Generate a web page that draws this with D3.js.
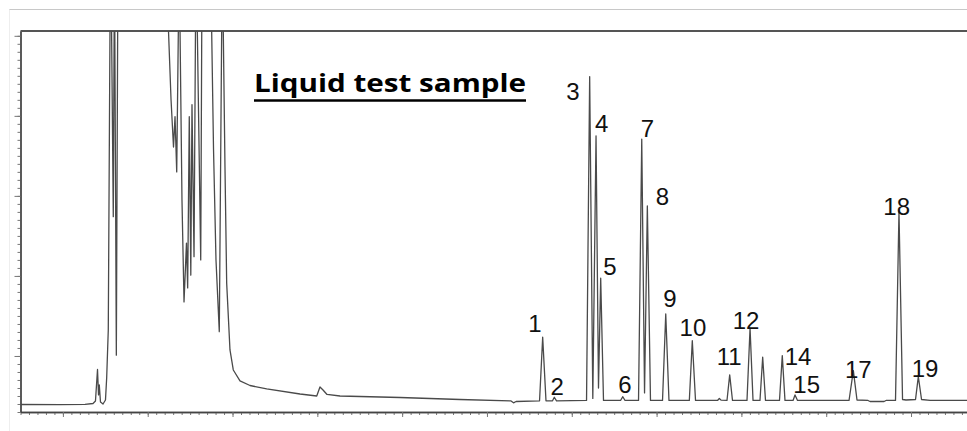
<!DOCTYPE html>
<html>
<head>
<meta charset="utf-8">
<script src="https://cdn.jsdelivr.net/npm/d3@7"></script>
<style>
  body { margin: 0; background: #fff; }
  .peakLabel { font-family: "Liberation Sans", Arial, sans-serif; font-size: 24px; fill: #111; }
  .chartTitle { font-family: "Open Sans", "Noto Sans", sans-serif; font-weight: bold; font-size: 25px; fill: #000; }
</style>
</head>
<body>
<div id="chart"></div>
<script>
// trace: retention time (min) and signal (mV)
// (solvent peaks run off the top, their apexes are guessed above the frame)
var traceTime = [
  0.500, 0.966, 1.261, 1.355, 1.384, 1.408, 1.420, 1.429, 1.443, 1.473,
  1.502, 1.516, 1.535, 1.555, 1.564, 1.574, 1.594, 1.608, 1.630, 1.650,
  1.909, 2.204, 2.245, 2.275, 2.304, 2.322, 2.342, 2.361, 2.369, 2.381,
  2.404, 2.428, 2.457, 2.471, 2.490, 2.508, 2.522, 2.546, 2.563, 2.572,
  2.585, 2.625, 2.637, 2.646, 2.699, 2.746, 2.754, 2.776, 2.805, 2.844,
  2.872, 2.879, 2.891, 2.911, 2.931, 2.970, 3.009, 3.088, 3.206, 3.403,
  3.796, 3.993, 4.031, 4.067, 4.114, 4.267, 4.975, 5.682, 6.284, 6.313,
  6.343, 6.620, 6.657, 6.696, 6.773, 6.794, 6.820, 7.174, 7.211, 7.248,
  7.286, 7.315, 7.341, 7.374, 7.575, 7.602, 7.628, 7.787, 7.825, 7.858,
  7.891, 7.928, 8.070, 8.108, 8.146, 8.386, 8.421, 8.459, 8.718, 8.740,
  8.760, 8.830, 8.862, 8.895, 9.066, 9.102, 9.137, 9.219, 9.251, 9.284,
  9.449, 9.482, 9.514, 9.609, 9.632, 9.662, 10.269, 10.320, 10.363, 10.493,
  10.517, 10.682, 10.705, 10.817, 10.858, 10.900, 10.941, 11.053, 11.086, 11.124,
  11.224, 11.660
];
var traceSignal = [
  3.94, 3.91, 3.96, 4.06, 4.38, 8.31, 5.13, 6.38, 4.25, 4.00,
  4.50, 7.25, 13.25, 50.6, 62.0, 50.6, 27.4, 59.5, 10.1, 62.0,
  64.5, 62.0, 50.6, 42.0, 36.1, 39.9, 33.0, 50.6, 59.5, 50.6,
  29.5, 16.75, 24.1, 18.5, 39.9, 20.1, 41.4, 22.4, 50.6, 59.5,
  50.6, 22.0, 50.6, 62.0, 64.5, 59.5, 50.6, 35.75, 22.0, 13.04,
  50.6, 59.5, 50.6, 33.6, 19.1, 10.75, 8.25, 6.88, 6.31, 5.88,
  5.25, 5.00, 6.13, 5.75, 5.19, 5.00, 4.81, 4.56, 4.38, 4.15,
  4.31, 4.40, 12.34, 4.40, 4.40, 4.84, 4.40, 4.44, 44.91, 4.69,
  37.5, 6.00, 19.71, 4.44, 4.44, 4.91, 4.44, 4.44, 37.09, 5.38,
  28.75, 4.44, 4.44, 15.25, 4.44, 4.44, 11.91, 4.44, 4.44, 4.69,
  4.48, 4.44, 7.63, 4.44, 4.44, 13.46, 4.44, 4.44, 9.84, 4.44,
  4.44, 10.04, 4.44, 4.44, 5.13, 4.44, 4.44, 8.16, 4.50, 4.44,
  4.31, 4.31, 4.44, 4.44, 28.04, 4.56, 4.50, 4.56, 7.41, 4.56,
  4.44, 4.44
];

// peak numbers and where each number is written (min, mV)
var peakNames = ["1", "2", "3", "4", "5", "6", "7", "8", "9", "10",
  "11", "12", "14", "15", "17", "18", "19"];
var labelTime = [6.567, 6.829, 7.015, 7.353, 7.451, 7.628, 7.891, 8.068, 8.158, 8.429,
  8.857, 9.054, 9.668, 9.770, 10.379, 10.831, 11.165];
var labelSignal = [13.04, 5.13, 42.0, 38.04, 20.13, 5.34, 37.41, 28.9, 16.16, 12.5,
  8.88, 13.38, 8.9, 5.35, 7.25, 27.63, 7.38];

var titleText = "Liquid test sample";

// axis ticks (no tick labels on this plot)
var xMajorTicks = [1, 2, 3, 4, 5, 6, 7, 8, 9, 10, 11];
var yMajorTicks = [10, 20, 30, 40, 50];

var svgWidth = 967;
var svgHeight = 431;

var plot = { left: 20.5, top: 31, right: 967, bottom: 412 };

var svg = d3.select("#chart").append("svg")
  .attr("width", svgWidth)
  .attr("height", svgHeight);

var xScale = d3.scaleLinear()
  .domain([0.5, 11.66])
  .range([plot.left, plot.right]);

var yScale = d3.scaleLinear()
  .domain([3, 50.6])
  .range([plot.bottom, plot.top]);

// faint page edges from the screenshot
svg.append("line")
  .attr("x1", 9).attr("x2", svgWidth)
  .attr("y1", 9.5).attr("y2", 9.5)
  .attr("stroke", "#c8c8c8");
svg.append("line")
  .attr("x1", 9.5).attr("x2", 9.5)
  .attr("y1", 9.5).attr("y2", svgHeight)
  .attr("stroke", "#eeeeee");

// minor ticks
var xMinor = d3.range(5, 117).map(d => d / 10);
var yMinor = d3.range(3, 51);

var xAxisMinor = d3.axisBottom(xScale).tickValues(xMinor).tickSize(3).tickSizeOuter(0).tickFormat("");
var xAxisMajor = d3.axisBottom(xScale).tickValues(xMajorTicks).tickSize(5).tickSizeOuter(0).tickFormat("");
var yAxisMinor = d3.axisLeft(yScale).tickValues(yMinor).tickSize(3).tickSizeOuter(0).tickFormat("");
var yAxisMajor = d3.axisLeft(yScale).tickValues(yMajorTicks).tickSize(6).tickSizeOuter(0).tickFormat("");

[xAxisMinor, xAxisMajor].forEach(function(ax) {
  svg.append("g")
    .attr("class", "axis")
    .attr("transform", `translate(0, ${plot.bottom})`)
    .call(ax);
});
[yAxisMinor, yAxisMajor].forEach(function(ax) {
  svg.append("g")
    .attr("class", "axis")
    .attr("transform", `translate(${plot.left}, 0)`)
    .call(ax);
});
svg.selectAll(".axis path").attr("stroke", "#444").attr("stroke-width", 1.3);
svg.selectAll(".axis line").attr("stroke", "#777");

// top frame line
svg.append("line")
  .attr("x1", plot.left).attr("x2", plot.right)
  .attr("y1", plot.top).attr("y2", plot.top)
  .attr("stroke", "#555")
  .attr("stroke-width", 2);

// clip the trace to the frame
svg.append("clipPath")
  .attr("id", "plotClip")
  .append("rect")
  .attr("x", plot.left)
  .attr("y", plot.top)
  .attr("width", plot.right - plot.left)
  .attr("height", plot.bottom - plot.top);

var points = traceTime.map((t, i) => [t, traceSignal[i]]);

var line = d3.line()
  .x(d => xScale(d[0]))
  .y(d => yScale(d[1]));

svg.append("path")
  .datum(points)
  .attr("clip-path", "url(#plotClip)")
  .attr("d", line)
  .attr("fill", "none")
  .attr("stroke", "#4a4a4a")
  .attr("stroke-width", 1.3)
  .attr("stroke-linejoin", "round");

// peak numbers
svg.selectAll(".peakLabel")
  .data(peakNames)
  .enter()
  .append("text")
  .attr("class", "peakLabel")
  .attr("x", (d, i) => xScale(labelTime[i]))
  .attr("y", (d, i) => yScale(labelSignal[i]))
  .attr("text-anchor", "middle")
  .text(d => d);

// title, underlined
svg.append("text")
  .attr("class", "chartTitle")
  .attr("x", 254)
  .attr("y", 92)
  .attr("textLength", 272)
  .attr("lengthAdjust", "spacingAndGlyphs")
  .text(titleText);

svg.append("line")
  .attr("x1", 254).attr("x2", 526)
  .attr("y1", 100.5).attr("y2", 100.5)
  .attr("stroke", "#000")
  .attr("stroke-width", 2.5);
</script>
</body>
</html>
